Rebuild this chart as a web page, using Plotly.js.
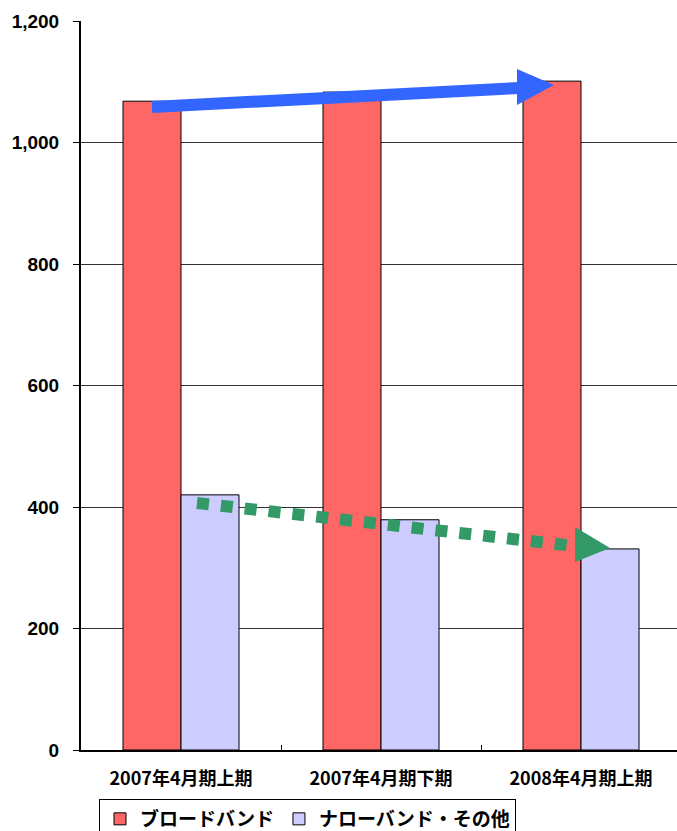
<!DOCTYPE html>
<html><head><meta charset="utf-8">
<script src="https://cdn.plot.ly/plotly-3.0.1.min.js"></script>
<style>html,body{margin:0;padding:0;overflow:hidden;background:#fff}</style>
</head><body>
<div id="chart" style="width:677px;height:831px"></div>
<script>
var categories = ['2007年4月期上期', '2007年4月期下期', '2008年4月期上期'];
var broadband = [1068, 1083, 1101];
var narrowband = [420, 379, 331];
var seriesNames = ['ブロードバンド', 'ナローバンド・その他'];
var yTicks = [0, 200, 400, 600, 800, 1000, 1200];
var yTickLabels = ['0', '200', '400', '600', '800', '1,000', '1,200'];

var W = 677, H = 831, L = 81, R = 0, T = 21, B = 81;
var pw = W - L - R, ph = H - T - B;
function px(x){ return (x - L) / pw; }
function py(y){ return (H - B - y) / ph; }

var font = 'Liberation Sans, "Noto Sans CJK JP", sans-serif';
var jfont = '"Noto Sans CJK JP", sans-serif';

var traces = [
  {type:'bar', x:categories, y:broadband, name:seriesNames[0],
   marker:{color:'#FF6666', line:{color:'#000', width:1}}},
  {type:'bar', x:categories, y:narrowband, name:seriesNames[1],
   marker:{color:'#CCCCFF', line:{color:'#000', width:1}}}
];

var shapes = [
  {type:'line', xref:'paper', yref:'paper', x0:px(152), y0:py(107), x1:px(519), y1:py(88),
   line:{color:'#3366FF', width:12}},
  {type:'path', xref:'paper', yref:'paper',
   path:'M'+px(517)+','+py(69)+' L'+px(554)+','+py(85)+' L'+px(517)+','+py(105)+' Z',
   fillcolor:'#3366FF', line:{width:0}},
  {type:'line', xref:'paper', yref:'paper', x0:px(197), y0:py(503), x1:px(574), y1:py(546),
   line:{color:'#339966', width:12, dash:'12px,12px'}},
  {type:'path', xref:'paper', yref:'paper',
   path:'M'+px(575)+','+py(527)+' L'+px(610)+','+py(548)+' L'+px(575)+','+py(562)+' Z',
   fillcolor:'#339966', line:{width:0}}
];

var layout = {
  width:W, height:H,
  margin:{l:L, r:R, t:T, b:B, pad:0, autoexpand:false},
  paper_bgcolor:'#fff', plot_bgcolor:'#fff',
  barmode:'group', bargap:0.42, bargroupgap:0,
  showlegend:true,
  legend:{orientation:'h', x:px(99), y:py(799), xanchor:'left', yanchor:'top',
          bordercolor:'#000', borderwidth:1, bgcolor:'#fff', itemwidth:30,
          font:{family:jfont, size:19, color:'#000', weight:'bold'}, traceorder:'normal'},
  xaxis:{type:'category', range:[-0.5, 2.48], showline:true, linecolor:'#000', linewidth:2,
         ticks:'inside', tickson:'boundaries', ticklen:5, tickcolor:'#000',
         tickfont:{family:jfont, size:18, color:'#000', weight:'bold'},
         ticklabelstandoff:11, showgrid:false, zeroline:false},
  yaxis:{range:[0, 1200], tickvals:yTicks, ticktext:yTickLabels,
         showline:true, linecolor:'#000', linewidth:2, ticks:'outside', ticklen:6, tickcolor:'#000',
         tickfont:{family:font, size:19, color:'#000', weight:'bold'}, ticklabelstandoff:10,
         showgrid:true, gridcolor:'#333', gridwidth:1, zeroline:false},
  shapes:shapes
};

Plotly.newPlot('chart', traces, layout, {displayModeBar:false, staticPlot:true});
</script>
</body></html>
